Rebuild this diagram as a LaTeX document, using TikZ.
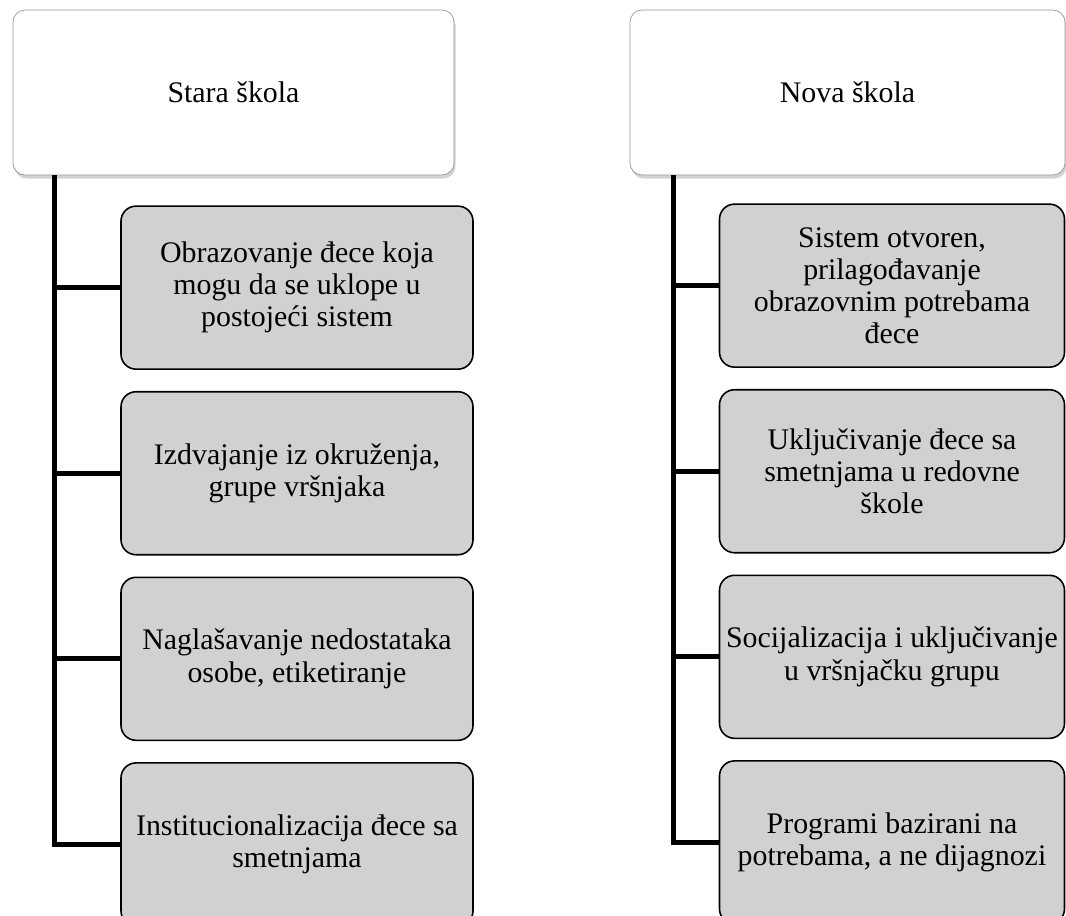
\documentclass[tikz,border=0pt]{standalone}
\usepackage{fontspec}
\setmainfont{Liberation Serif}
\usetikzlibrary{positioning, calc, shadows}
\definecolor{boxgray}{RGB}{209,209,209}
\definecolor{edgegray}{RGB}{150,150,150}

\begin{document}
\begin{tikzpicture}[
    node distance=0.42cm,
    head/.style={rectangle, rounded corners=0.24cm, draw=edgegray, fill=white, minimum height=3.3cm, align=center, font=\fontsize{17}{19}\selectfont, drop shadow={opacity=0.35, shadow xshift=0.03cm, shadow yshift=-0.07cm}},
    item/.style={rectangle, rounded corners=0.3cm, draw=black, line width=0.9pt, fill=boxgray, minimum height=3.26cm, align=center, font=\fontsize{17}{18.3}\selectfont},
    trunk/.style={line width=2.8pt, black}
]
\useasboundingbox (0,0) rectangle (21.32,-18.32);

% Stara skola
\node[head, minimum width=8.82cm] (stara) at (4.67,-1.85) {Stara škola};
\node[item, minimum width=7.04cm, below=0.6cm of stara, xshift=1.27cm] (s1) {Obrazovanje đece koja\\mogu da se uklope u\\postojeći sistem};
\node[item, minimum width=7.04cm, below=of s1] (s2) {Izdvajanje iz okruženja,\\grupe vršnjaka};
\node[item, minimum width=7.04cm, below=of s2] (s3) {Naglašavanje nedostataka\\osobe, etiketiranje};
\node[item, minimum width=7.04cm, below=of s3] (s4) {Institucionalizacija đece sa\\smetnjama};

% Nova skola
\node[head, minimum width=8.7cm] (nova) at (16.95,-1.85) {Nova škola};
\node[item, minimum width=6.9cm, below=0.56cm of nova, xshift=0.89cm] (n1) {Sistem otvoren,\\prilagođavanje\\obrazovnim potrebama\\đece};
\node[item, minimum width=6.9cm, below=of n1] (n2) {Uključivanje đece sa\\smetnjama u redovne\\škole};
\node[item, minimum width=6.9cm, below=of n2] (n3) {Socijalizacija i uključivanje\\u vršnjačku grupu};
\node[item, minimum width=6.9cm, below=of n3] (n4) {Programi bazirani na\\potrebama, a ne dijagnozi};

% Connections
\coordinate (sroot) at ($(stara.south west)+(0.84,0)$);
\coordinate (nroot) at ($(nova.south west)+(0.88,0)$);
\foreach \i in {1,...,4} {
    \draw[trunk] (sroot) |- (s\i.west);
    \draw[trunk] (nroot) |- (n\i.west);
}

\end{tikzpicture}
\end{document}
